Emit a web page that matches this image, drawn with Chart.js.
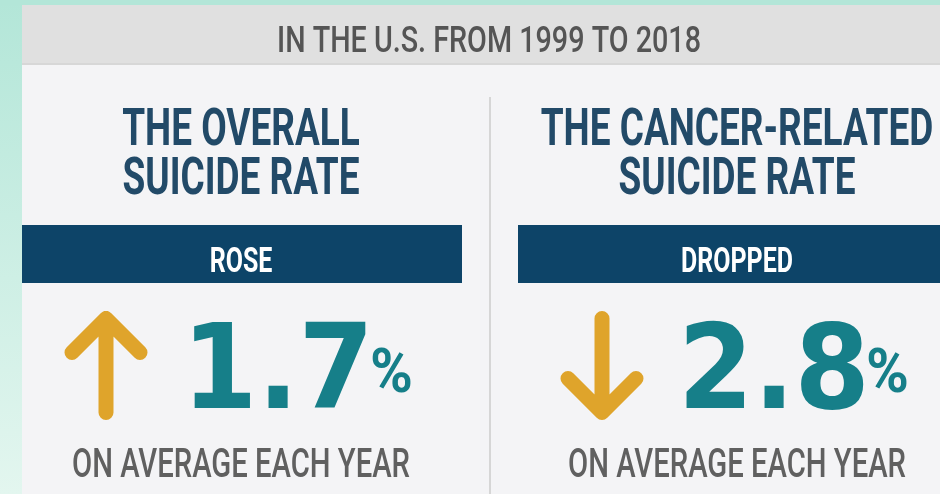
<!DOCTYPE html>
<html>
<head>
<meta charset="utf-8">
<script src="https://cdn.jsdelivr.net/npm/chart.js@4.4.1/dist/chart.umd.min.js"></script>
<style>
  html, body { margin: 0; padding: 0; background: #b3e6d8; }
  canvas { display: block; }
</style>
</head>
<body>
<canvas id="rateChart" width="940" height="494"></canvas>
<script>
// Average annual change in suicide rates, U.S., 1999-2018
const periodLabel = 'IN THE U.S. FROM 1999 TO 2018';
const rateGroups = ['Overall', 'Cancer-related'];
const rateTitles = [['THE OVERALL', 'SUICIDE RATE'], ['THE CANCER-RELATED', 'SUICIDE RATE']];
const trendWords = ['ROSE', 'DROPPED'];
const annualChange = [1.7, -2.8];
const unitLabel = '%';
const footLabel = 'ON AVERAGE EACH YEAR';

const colors = {
    mint: '#b3e6d8',
    mintLight: '#e3f6ef',
    panel: '#f4f4f6',
    header: '#e0e0e0',
    headerText: '#555555',
    title: '#224a68',
    band: '#0d4468',
    value: '#167f89',
    arrow: '#dfa42b',
    foot: '#606060',
    divider: '#d6d6d6'
};

const titleFont = '700 {s}px Roboto';
const headFont = '500 {s}px Roboto';
const numberFont = '700 {s}px "DejaVu Sans"';
const unitFont = '700 {s}px Roboto';

// font size giving the requested cap height
function sizeFor(ctx, font, capH) {
    ctx.font = font.replace('{s}', 100);
    const cap = ctx.measureText('H').actualBoundingBoxAscent;
    return 100 * capH / cap;
}

function advance(ctx, text, font, capH) {
    ctx.font = font.replace('{s}', sizeFor(ctx, font, capH).toFixed(2));
    return ctx.measureText(text).width;
}

// draws text squeezed horizontally by sx; returns drawn width
function squeezeText(ctx, text, x, baseline, capH, sx, font, color, align) {
    const size = sizeFor(ctx, font, capH);
    ctx.save();
    ctx.font = font.replace('{s}', size.toFixed(2));
    const w = ctx.measureText(text).width * sx;
    const left = align === 'center' ? x - w / 2 : x;
    ctx.translate(left, baseline);
    ctx.scale(sx, 1);
    ctx.fillStyle = color;
    ctx.textAlign = 'left';
    ctx.textBaseline = 'alphabetic';
    ctx.fillText(text, 0, 0);
    ctx.restore();
    return w;
}

function drawArrow(ctx, x, top, bottom, up) {
    const lw = 15, half = 34, depth = 34;
    ctx.save();
    ctx.strokeStyle = colors.arrow;
    ctx.lineWidth = lw;
    ctx.lineCap = 'round';
    ctx.lineJoin = 'round';
    ctx.beginPath();
    if (up) {
        const tip = top + lw / 2;
        ctx.moveTo(x - half, tip + depth);
        ctx.lineTo(x, tip);
        ctx.lineTo(x + half, tip + depth);
        ctx.moveTo(x, tip);
        ctx.lineTo(x, bottom - lw / 2);
    } else {
        const tip = bottom - lw / 2;
        ctx.moveTo(x - half, tip - depth);
        ctx.lineTo(x, tip);
        ctx.lineTo(x + half, tip - depth);
        ctx.moveTo(x, tip);
        ctx.lineTo(x, top + lw / 2);
    }
    ctx.stroke();
    ctx.restore();
}

const infographic = {
    id: 'infographic',
    beforeDatasetsDraw(chart) {
        const { ctx, width, height } = chart;
        const cols = annualChange.map((v, i) => chart.scales.x.getPixelForValue(i));
        const mid = (cols[0] + cols[1]) / 2;

        ctx.save();
        ctx.fillStyle = colors.mint;
        ctx.fillRect(0, 0, width, height);
        const g = ctx.createLinearGradient(0, 0, 0, height);
        g.addColorStop(0, colors.mint);
        g.addColorStop(1, colors.mintLight);
        ctx.fillStyle = g;
        ctx.fillRect(0, 5, 22, height);

        ctx.fillStyle = colors.panel;
        ctx.fillRect(22, 5, width - 22, height - 5);
        ctx.fillStyle = colors.header;
        ctx.fillRect(22, 5, width - 22, 60);
        ctx.fillStyle = 'rgba(0,0,0,0.04)';
        ctx.fillRect(22, 63, width - 22, 2);

        ctx.fillStyle = colors.divider;
        ctx.fillRect(mid, 97, 2, height - 97);

        // header line
        const headSx = 424 / advance(ctx, periodLabel, headFont, 27);
        squeezeText(ctx, periodLabel, mid, 52, 27, headSx, headFont, colors.headerText, 'center');

        const titleSx = 237 / advance(ctx, 'SUICIDE RATE', titleFont, 37);
        const footSx = 338 / advance(ctx, footLabel, headFont, 29);

        cols.forEach((cx, i) => {
            squeezeText(ctx, rateTitles[i][0], cx, 145, 37, titleSx, titleFont, colors.title, 'center');
            squeezeText(ctx, rateTitles[i][1], cx, 194, 37, titleSx, titleFont, colors.title, 'center');

            ctx.fillStyle = colors.band;
            ctx.fillRect(cx - 219, 225, 440, 58);
            squeezeText(ctx, trendWords[i], cx, 272, 25, titleSx, titleFont, '#ffffff', 'center');

            squeezeText(ctx, footLabel, cx, 477, 29, footSx, headFont, colors.foot, 'center');
        });
        ctx.restore();
    },
    afterDatasetsDraw(chart) {
        const { ctx } = chart;
        const meta = chart.getDatasetMeta(0);
        const numSx = 192 / advance(ctx, '2.8', numberFont, 86);
        meta.data.forEach((bar, i) => {
            const v = annualChange[i];
            const cx = bar.x;
            drawArrow(ctx, cx - 135, 311, 420, v > 0);
            const text = Math.abs(v).toFixed(1);
            const w = squeezeText(ctx, text, cx - 59, 408, 86, numSx, numberFont, colors.value, 'left');
            squeezeText(ctx, unitLabel, cx - 59 + w - 4, 392, 44, 0.95, unitFont, colors.value, 'left');
        });
    }
};

new Chart(document.getElementById('rateChart'), {
    type: 'bar',
    data: {
        labels: rateGroups,
        datasets: [{
            data: annualChange,
            backgroundColor: 'rgba(0,0,0,0)',
            borderWidth: 0
        }]
    },
    options: {
        responsive: false,
        animation: false,
        layout: { padding: { left: 241, right: 203, top: 0, bottom: 0 } },
        scales: {
            x: { display: false, offset: false },
            y: { display: false }
        },
        plugins: { legend: { display: false }, tooltip: { enabled: false } }
    },
    plugins: [infographic]
});
</script>
</body>
</html>
